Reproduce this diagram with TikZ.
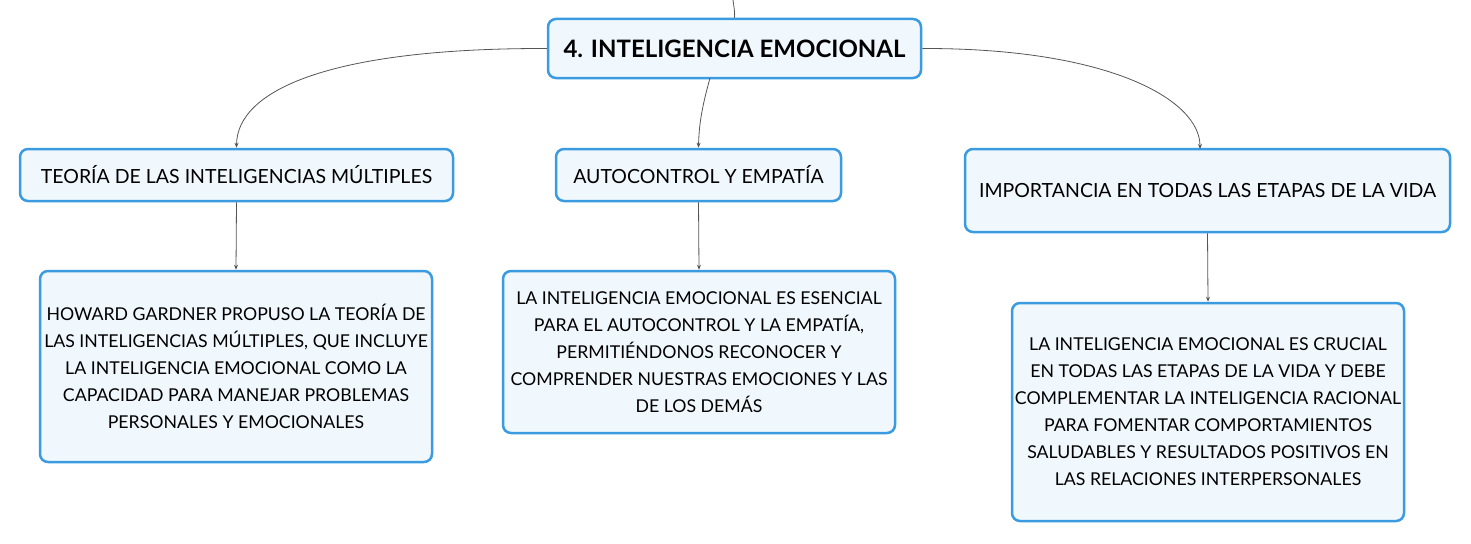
\documentclass[tikz,border=0pt]{standalone}
\usepackage{fontspec}
\setmainfont{Lato}
\usepackage{xcolor}
\usepackage{tikz}
\usetikzlibrary{arrows.meta}
\definecolor{boxblue}{HTML}{3A9BE0}
\definecolor{boxfill}{HTML}{F0F8FE}
\definecolor{linegray}{HTML}{555555}
\tikzset{
  box/.style={rectangle, draw=boxblue, line width=2.5pt, fill=boxfill, rounded corners=8pt, align=center, inner sep=0pt, font=\fontsize{19.5}{27}\selectfont},
  detail/.style={box, font=\fontsize{17.7}{27}\selectfont},
  arrow/.style={-{Stealth[length=5pt, width=4pt]}, draw=linegray, line width=0.8pt},
  link/.style={draw=linegray, line width=0.8pt},
}

\begin{document}
\begin{tikzpicture}[x=1pt, y=-1pt]
    \useasboundingbox (0,0) rectangle (1471,543);
    \node[box, minimum width=373pt, minimum height=59pt, font=\fontsize{24}{28}\selectfont\bfseries] (main) at (734.5,48.5) {4. INTELIGENCIA EMOCIONAL};
    \node[box, minimum width=433pt, minimum height=52pt] (teoria) at (236.5,175) {TEORÍA DE LAS INTELIGENCIAS MÚLTIPLES};
    \node[box, minimum width=285pt, minimum height=52pt] (autocontrol) at (698.5,175) {AUTOCONTROL Y EMPATÍA};
    \node[box, minimum width=485pt, minimum height=83pt] (importancia) at (1207.5,190.5) {IMPORTANCIA EN TODAS LAS ETAPAS DE LA VIDA};
    \node[detail, minimum width=392pt, minimum height=191pt] (gardner) at (236,366.5) {HOWARD GARDNER PROPUSO LA TEORÍA DE\\LAS INTELIGENCIAS MÚLTIPLES, QUE INCLUYE\\LA INTELIGENCIA EMOCIONAL COMO LA\\CAPACIDAD PARA MANEJAR PROBLEMAS\\PERSONALES Y EMOCIONALES};
    \node[detail, minimum width=392pt, minimum height=162pt] (esencial) at (699,352) {LA INTELIGENCIA EMOCIONAL ES ESENCIAL\\PARA EL AUTOCONTROL Y LA EMPATÍA,\\PERMITIÉNDONOS RECONOCER Y\\COMPRENDER NUESTRAS EMOCIONES Y LAS\\DE LOS DEMÁS};
    \node[detail, minimum width=392pt, minimum height=218pt] (crucial) at (1208,412) {LA INTELIGENCIA EMOCIONAL ES CRUCIAL\\EN TODAS LAS ETAPAS DE LA VIDA Y DEBE\\COMPLEMENTAR LA INTELIGENCIA RACIONAL\\PARA FOMENTAR COMPORTAMIENTOS\\SALUDABLES Y RESULTADOS POSITIVOS EN\\LAS RELACIONES INTERPERSONALES};
    \coordinate (up) at (733,0);
    \draw[link] (up) .. controls (734,8) and (735,12) .. (main.north);
    \draw[arrow] (main.west) .. controls (330,48) and (237,90) .. (teoria.north);
    \draw[arrow] (main.east) .. controls (1110,48) and (1200,100) .. (1200,149);
    \draw[arrow] (710,78) .. controls (704,100) and (699,120) .. (autocontrol.north);
    \draw[arrow] (teoria.south) -- (gardner.north);
    \draw[arrow] (autocontrol.south) -- (esencial.north);
    \draw[arrow] (importancia.south) -- (crucial.north);
  \end{tikzpicture}
\end{document}
